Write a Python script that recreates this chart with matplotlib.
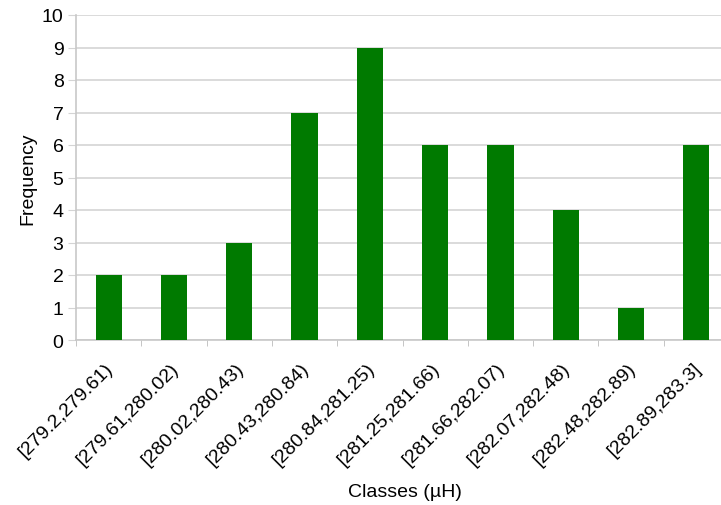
import numpy as np
import matplotlib.pyplot as plt
import matplotlib.transforms as mtransforms

# --- Datos | Data ---
clases = ['[279.2,279.61)', '[279.61,280.02)', '[280.02,280.43)', '[280.43,280.84)',
          '[280.84,281.25)', '[281.25,281.66)', '[281.66,282.07)', '[282.07,282.48)',
          '[282.48,282.89)', '[282.89,283.3]']
frecuencias = [2, 2, 3, 7, 9, 6, 6, 4, 1, 6]

plt.rcParams['font.family'] = ['Liberation Sans', 'DejaVu Sans']
fs = 14

fig = plt.figure(figsize=(7.21, 5.06), dpi=100)
# axes runs a bit past the right edge, like the cropped original
ax = fig.add_axes([76 / 721, 1 - 341 / 506, 653 / 721, 325 / 506])

x = np.arange(len(clases))
ax.bar(x, frecuencias, width=0.4, color='#007a00', zorder=3)

ax.set_xlim(-0.5, len(clases) - 0.5)
ax.set_ylim(0, 10)
ax.set_yticks(range(0, 11))
ax.yaxis.grid(True, color='#d4d4d4', linewidth=1.2, zorder=0)
ax.tick_params(axis='y', length=6, color='#d4d4d4', labelsize=fs, pad=3)

ax.set_xticks(x)
ax.set_xticklabels(clases, rotation=45, ha='right', va='center', rotation_mode='anchor', fontsize=fs)
ax.tick_params(axis='x', length=0, pad=18)
desplaz = mtransforms.ScaledTranslation(2 / 100, 0, fig.dpi_scale_trans)
for lbl in ax.get_xticklabels():
    lbl.set_transform(lbl.get_transform() + desplaz)
ax.set_xticks(np.arange(len(clases) + 1) - 0.5, minor=True)
ax.tick_params(axis='x', which='minor', length=4, color='#bbbbbb')

for s in ['top', 'right']:
    ax.spines[s].set_visible(False)
for s in ['left', 'bottom']:
    ax.spines[s].set_color('#c8c8c8')
    ax.spines[s].set_linewidth(1.2)

ax.set_ylabel('Frequency', fontsize=fs, labelpad=4)
fig.text(405 / 721, 1 - 493 / 506, 'Classes (µH)', ha='center', va='center', fontsize=fs)

fig.savefig('out.png', dpi=100)
